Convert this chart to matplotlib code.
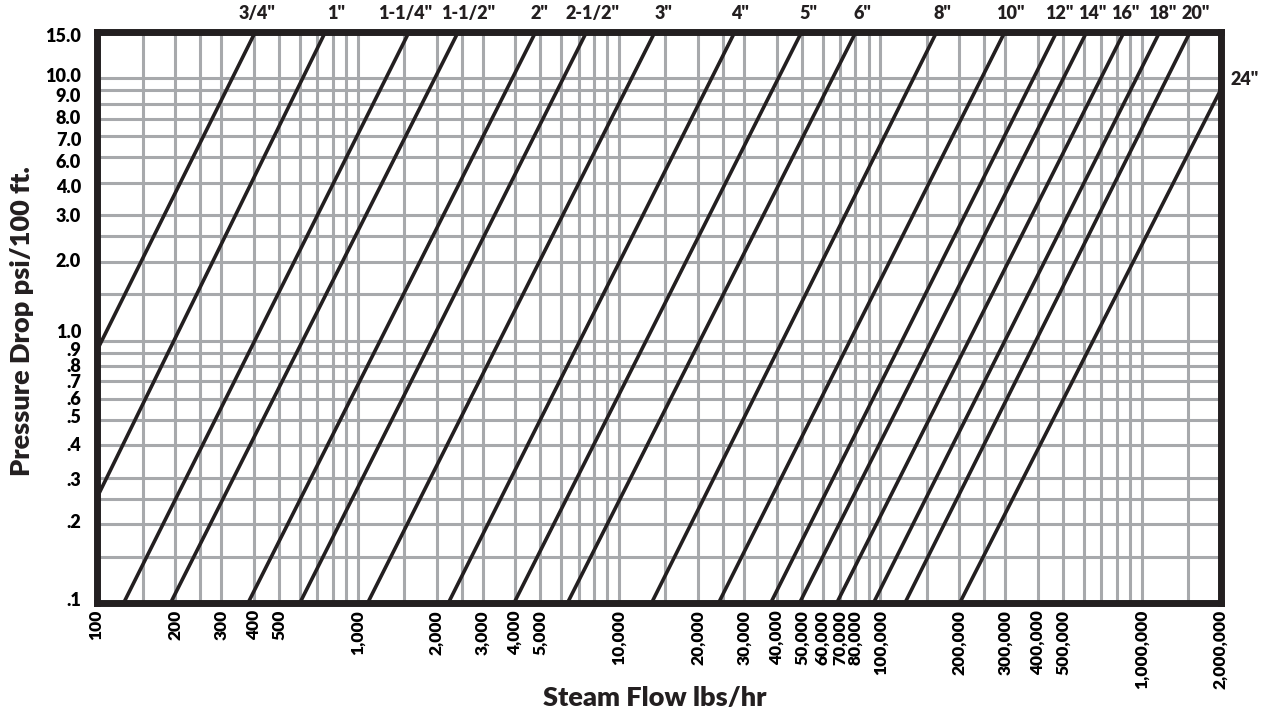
import matplotlib
import matplotlib.pyplot as plt
from matplotlib.ticker import NullFormatter

# Using 'Agg' because the chart is saved to a PNG file
matplotlib.use('Agg')

# Pipe sizes, and where each sizing line meets the chart border
sizes = ['3/4"', '1"', '1-1/4"', '1-1/2"', '2"', '2-1/2"', '3"', '4"', '5"',
         '6"', '8"', '10"', '12"', '14"', '16"', '18"', '20"', '24"']
flow_lo = [100, 100, 127, 192, 380, 600, 1090, 2220, 3960,
           6340, 13300, 24000, 38000, 49000, 68000, 94000, 124000, 201000]
drop_lo = [0.91, 0.25, 0.1, 0.1, 0.1, 0.1, 0.1, 0.1, 0.1,
           0.1, 0.1, 0.1, 0.1, 0.1, 0.1, 0.1, 0.1, 0.1]
flow_hi = [405, 751, 1570, 2420, 4790, 7500, 13700, 27700, 49900,
           80500, 164000, 299000, 472000, 615000, 855000, 1170000, 1530000, 2000000]
drop_hi = [15, 15, 15, 15, 15, 15, 15, 15, 15,
           15, 15, 15, 15, 15, 15, 15, 15, 9.0]

# Axis labels as printed on the chart
x_ticks = [100, 200, 300, 400, 500, 1000, 2000, 3000, 4000, 5000,
           10000, 20000, 30000, 40000, 50000, 60000, 70000, 80000,
           100000, 200000, 300000, 400000, 500000, 1000000, 2000000]
y_labels = ['.1', '.2', '.3', '.4', '.5', '.6', '.7', '.8', '.9', '1.0',
            '2.0', '3.0', '4.0', '6.0', '7.0', '8.0', '9.0', '10.0', '15.0']
y_label_at = [0.104, 0.205, 0.298, 0.402, 0.515, 0.603, 0.70, 0.81, 0.93, 1.09,
              2.03, 3.02, 3.9, 4.85, 5.87, 7.14, 8.63, 10.3, 14.6]

# small nudges (points) of the size labels above the top border
label_dx = [1, 8, -3, 7, 3, 4, 6, 4, 5, 5, 4, 4, 2, 4, 1, 2, 4]

# grid at 1, 1.5, 2, 2.5, 3 ... 9 of each decade
steps = [1, 1.5, 2, 2.5, 3, 4, 5, 6, 7, 8, 9]
x_grid = [m * 10 ** e for e in range(2, 7) for m in steps if m * 10 ** e <= 2e6]
y_grid = [m * 10 ** e for e in range(-1, 2) for m in steps if m * 10 ** e <= 15]

ink = '#231f20'
grey = '#a7a9ac'

plt.rcParams['font.family'] = ['Lato', 'DejaVu Sans']
plt.rcParams['font.weight'] = 'heavy'

fig = plt.figure(figsize=(12.64, 7.13), dpi=100)
ax = fig.add_axes([96.5 / 1264, 110 / 713, 1124 / 1264, 571 / 713])
ax.set_xscale('log')
ax.set_yscale('log')
ax.set_xlim(100, 2e6)
ax.set_ylim(0.1, 15)

# grid lines from minor ticks, labels from major ticks
ax.set_xticks(x_grid, minor=True)
ax.set_yticks(y_grid, minor=True)
ax.xaxis.set_minor_formatter(NullFormatter())
ax.yaxis.set_minor_formatter(NullFormatter())
ax.xaxis.remove_overlapping_locs = False
ax.yaxis.remove_overlapping_locs = False
ax.grid(which='minor', color=grey, linewidth=2.2)
ax.set_axisbelow(True)

ax.set_xticks(x_ticks, [f'{v:,}' for v in x_ticks], rotation=90)
ax.set_yticks(y_label_at, y_labels)
ax.tick_params(which='both', length=0)
ax.tick_params(axis='x', pad=5, labelsize=12.5)
ax.tick_params(axis='y', pad=11, labelsize=13)

for i in range(len(sizes)):
    ax.plot([flow_lo[i], flow_hi[i]], [drop_lo[i], drop_hi[i]],
            color=ink, linewidth=2.6, solid_capstyle='butt', zorder=3)
    if i < len(sizes) - 1:
        ax.annotate(sizes[i], (flow_hi[i], drop_hi[i]), xytext=(label_dx[i], 7),
                    textcoords='offset points', ha='center', va='bottom',
                    fontsize=13, color=ink, annotation_clip=False)
    else:
        ax.annotate(sizes[i], (flow_hi[i], drop_hi[i]), xytext=(7, 8),
                    textcoords='offset points', ha='left', va='center',
                    fontsize=13, color=ink, annotation_clip=False)

for side in ax.spines.values():
    side.set_linewidth(5)
    side.set_color(ink)
    side.set_zorder(4)

fig.text(655 / 1264, 1 - 698 / 713, 'Steam Flow lbs/hr', ha='center', va='center',
         fontsize=19.5, color=ink)
fig.text(22 / 1264, 1 - 321 / 713, 'Pressure Drop psi/100 ft.', ha='center', va='center',
         rotation=90, fontsize=19.5, color=ink)

plt.savefig('out.png', dpi=100)
